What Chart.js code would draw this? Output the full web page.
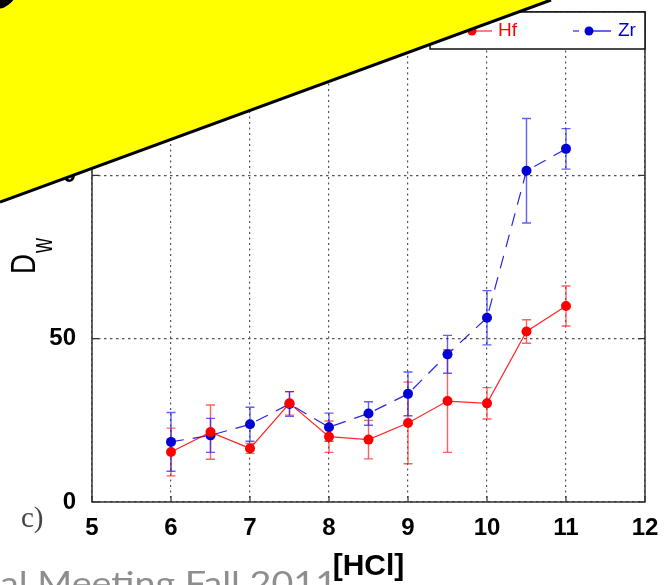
<!DOCTYPE html>
<html>
<head>
<meta charset="utf-8">
<script src="https://cdn.jsdelivr.net/npm/chart.js@4/dist/chart.umd.min.js"></script>
<style>
  html, body { margin: 0; padding: 0; background: #fff; }
  canvas { display: block; }
</style>
</head>
<body>
<canvas id="c" width="664" height="585"></canvas>
<script>
// ---- data ----
const hcl   = [6, 6.5, 7, 7.5, 8, 8.5, 9, 9.5, 10, 10.5, 11];
const hf    = [15.3, 21.4, 16.4, 30.2, 20.0, 19.1, 24.2, 30.9, 30.2, 52.2, 60.0];
const hfErr = [7.3, 8.3, 1.5, 3.6, 4.8, 5.9, 12.5, 15.7, 4.8, 3.6, 6.1];
const zr    = [18.4, 20.4, 23.8, 30.0, 22.9, 27.1, 33.1, 45.2, 56.4, 101.4, 108.1];
const zrErr = [9.0, 5.2, 5.2, 3.8, 4.3, 3.6, 6.7, 5.8, 8.3, 16.0, 6.2];
const seriesNames = ['Hf', 'Zr'];
const xTitle = '[HCl]';
const yTitleMain = 'D';
const yTitleSub = 'w';
const panelLabel = 'c)';
const footerText = 'al Meeting Fall 2011';

const RED = 'rgb(255,0,0)';
const BLUE = 'rgb(0,0,215)';
const SANS = '"Liberation Sans", Arial, sans-serif';

const errMap = { 0: hfErr, 1: zrErr };
const errColors = { 0: 'rgba(255,30,30,0.7)', 1: 'rgba(30,30,235,0.7)' };

const decorPlugin = {
  id: 'decor',
  beforeDraw(chart) {
    const ctx = chart.ctx;
    ctx.save();
    ctx.fillStyle = '#fff';
    ctx.fillRect(0, 0, chart.width, chart.height);
    // gray footer text from slide
    ctx.font = '32px Lato, "Open Sans", sans-serif';
    ctx.fillStyle = '#8e8e8e';
    ctx.textBaseline = 'alphabetic';
    const w = ctx.measureText(footerText).width;
    ctx.translate(0, 595);
    ctx.scale(337 / w, 1);
    ctx.fillText(footerText, 0, 0);
    ctx.restore();
  },
  beforeDatasetsDraw(chart) {
    const ctx = chart.ctx;
    const xs = chart.scales.x, ys = chart.scales.y;
    ctx.save();
    ctx.lineWidth = 1.4;
    chart.data.datasets.forEach((ds, di) => {
      const errs = errMap[di];
      ctx.strokeStyle = errColors[di];
      ds.data.forEach((p, i) => {
        const px = xs.getPixelForValue(p.x);
        const yt = ys.getPixelForValue(p.y + errs[i]);
        const yb = ys.getPixelForValue(p.y - errs[i]);
        ctx.beginPath();
        ctx.moveTo(px, yt); ctx.lineTo(px, yb);
        ctx.moveTo(px - 4.5, yt); ctx.lineTo(px + 4.5, yt);
        ctx.moveTo(px - 4.5, yb); ctx.lineTo(px + 4.5, yb);
        ctx.stroke();
      });
    });
    ctx.restore();
  },
  afterDraw(chart) {
    const ctx = chart.ctx;
    const a = chart.chartArea;
    const xs = chart.scales.x, ys = chart.scales.y;
    ctx.save();
    // axes box
    ctx.strokeStyle = '#333';
    ctx.lineWidth = 1.5;
    ctx.setLineDash([]);
    ctx.strokeRect(a.left, a.top, a.right - a.left, a.bottom - a.top);
    // inward tick marks
    ctx.lineWidth = 1.2;
    xs.ticks.forEach(t => {
      const px = xs.getPixelForValue(t.value);
      ctx.beginPath();
      ctx.moveTo(px, a.bottom); ctx.lineTo(px, a.bottom - 6);
      ctx.moveTo(px, a.top); ctx.lineTo(px, a.top + 6);
      ctx.stroke();
    });
    ys.ticks.forEach(t => {
      const py = ys.getPixelForValue(t.value);
      ctx.beginPath();
      ctx.moveTo(a.left, py); ctx.lineTo(a.left + 7, py);
      ctx.moveTo(a.right, py); ctx.lineTo(a.right - 7, py);
      ctx.stroke();
    });

    // legend
    const lx0 = 430, ly0 = a.top, lx1 = a.right, ly1 = 49;
    ctx.fillStyle = '#fff';
    ctx.fillRect(lx0, ly0, lx1 - lx0, ly1 - ly0);
    ctx.strokeStyle = '#111';
    ctx.lineWidth = 1.5;
    ctx.strokeRect(lx0, ly0, lx1 - lx0, ly1 - ly0);
    const ly = 31;
    // Hf
    ctx.strokeStyle = RED; ctx.lineWidth = 1.2;
    ctx.beginPath(); ctx.moveTo(454, ly); ctx.lineTo(492, ly); ctx.stroke();
    ctx.fillStyle = RED;
    ctx.beginPath(); ctx.arc(472, ly, 4.5, 0, Math.PI * 2); ctx.fill();
    ctx.font = '19px ' + SANS;
    ctx.textBaseline = 'middle';
    ctx.fillText(seriesNames[0], 498, ly);
    // Zr
    ctx.strokeStyle = BLUE;
    ctx.setLineDash([6, 6]);
    ctx.beginPath(); ctx.moveTo(573, ly); ctx.lineTo(588, ly); ctx.stroke();
    ctx.setLineDash([]);
    ctx.beginPath(); ctx.moveTo(588, ly); ctx.lineTo(611, ly); ctx.stroke();
    ctx.fillStyle = BLUE;
    ctx.beginPath(); ctx.arc(589, ly, 4.5, 0, Math.PI * 2); ctx.fill();
    ctx.fillText(seriesNames[1], 618, ly);

    // y axis title D_w (rotated)
    ctx.save();
    ctx.fillStyle = '#000';
    ctx.translate(35, 273);
    ctx.rotate(-Math.PI / 2);
    ctx.textBaseline = 'alphabetic';
    ctx.textAlign = 'left';
    ctx.save();
    ctx.scale(20 / (0.722 * 30), 25 / (0.716 * 30));
    ctx.font = '30px ' + SANS;
    ctx.fillText(yTitleMain, -1, 0);
    ctx.restore();
    ctx.save();
    ctx.translate(20, 17);
    ctx.scale(0.94, 1.31);
    ctx.font = '22px ' + SANS;
    ctx.fillText(yTitleSub, 0, 0);
    ctx.restore();
    ctx.restore();

    // panel label
    ctx.font = '29px "Liberation Serif", "DejaVu Serif", serif';
    ctx.fillStyle = '#444';
    ctx.textBaseline = 'alphabetic';
    ctx.textAlign = 'left';
    ctx.fillText(panelLabel, 21, 527);

    // yellow slide shape overlapping the chart
    ctx.fillStyle = '#ffff00';
    ctx.beginPath();
    ctx.moveTo(0, 0); ctx.lineTo(551, 0); ctx.lineTo(0, 202); ctx.closePath();
    ctx.fill();
    ctx.strokeStyle = '#000';
    ctx.lineWidth = 3;
    ctx.beginPath(); ctx.moveTo(551, 0); ctx.lineTo(0, 202); ctx.stroke();
    ctx.fillStyle = '#000';
    ctx.beginPath(); ctx.arc(-4, -12, 21, 0, Math.PI * 2); ctx.fill();
    ctx.restore();
  }
};

const tickFont = { family: SANS, size: 24, weight: 'bold' };

new Chart(document.getElementById('c'), {
  type: 'line',
  data: {
    datasets: [
      {
        label: seriesNames[0],
        data: hcl.map((x, i) => ({ x: x, y: hf[i] })),
        borderColor: 'rgba(255,0,0,0.85)',
        backgroundColor: RED,
        borderWidth: 1.2,
        pointRadius: 5,
        pointBorderWidth: 0,
        pointBackgroundColor: RED,
        tension: 0
      },
      {
        label: seriesNames[1],
        data: hcl.map((x, i) => ({ x: x, y: zr[i] })),
        borderColor: 'rgba(0,0,215,0.85)',
        backgroundColor: BLUE,
        borderWidth: 1.2,
        borderDash: [13, 9],
        pointRadius: 5,
        pointBorderWidth: 0,
        pointBackgroundColor: BLUE,
        tension: 0
      }
    ]
  },
  options: {
    responsive: false,
    devicePixelRatio: 1,
    animation: false,
    layout: { padding: { top: 12, right: 19, left: 0, bottom: 0 } },
    plugins: { legend: { display: false }, tooltip: { enabled: false } },
    scales: {
      x: {
        type: 'linear', min: 5, max: 12,
        ticks: { stepSize: 1, font: tickFont, color: '#000', padding: 12, maxRotation: 0, autoSkip: false },
        grid: { color: '#555', lineWidth: 1.2, drawTicks: false },
        border: { display: false, dash: [2, 3.5] },
        title: { display: true, text: xTitle, color: '#000', font: { family: SANS, size: 30, weight: 'bold' }, padding: { top: 0, bottom: 0 } },
        afterFit(s) { s.height = 83; s.paddingLeft = 0; s.paddingRight = 0; }
      },
      y: {
        type: 'linear', min: 0, max: 150,
        ticks: { stepSize: 50, font: tickFont, color: '#000', padding: 16 },
        grid: { color: '#555', lineWidth: 1.2, drawTicks: false },
        border: { display: false, dash: [2.5, 3.5] },
        afterFit(s) { s.width = 92; s.paddingTop = 0; s.paddingBottom = 0; }
      }
    }
  },
  plugins: [decorPlugin]
});
</script>
</body>
</html>
